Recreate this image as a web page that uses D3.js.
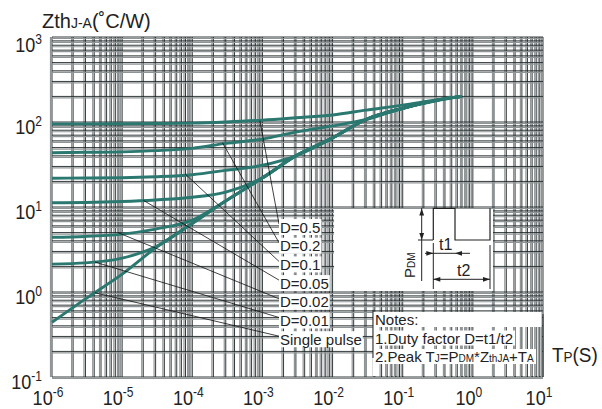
<!DOCTYPE html>
<html><head><meta charset="utf-8">
<script src="https://cdn.jsdelivr.net/npm/d3@7/dist/d3.min.js"></script>
<style>
body{margin:0;background:#fff;}
svg{display:block;font-family:Arial,"Liberation Sans",Helvetica,sans-serif;}
</style></head>
<body><svg id="c" width="602" height="409"></svg>
<script>
// ---- data ----
const tp = [1e-6, 3e-6, 1e-5, 3e-5, 1e-4, 3e-4, 1e-3, 3e-3, 1e-2, 3e-2, 1e-1, 3e-1, 0.7];
const seriesNames = ["D=0.5","D=0.2","D=0.1","D=0.05","D=0.02","D=0.01","Single pulse"];
const zD05   = [95, 95, 95.5, 96, 97, 100, 105, 112, 121, 138, 158, 182, 200];
const zD02   = [43.5, 44, 44.5, 46, 49, 56, 63, 76, 90, 107, 145, 178, 200];
const zD01   = [21.8, 21.9, 22.1, 22.7, 24, 27, 31, 40, 65, 107, 145, 180, 200];
const zD005  = [11.2, 11.3, 11.6, 12.1, 13, 15, 22, 40, 65, 107, 145, 180, 200];
const zD002  = [4.4, 4.5, 4.8, 5.5, 7, 11.8, 22, 40, 65, 107, 145, 180, 200];
const zD001  = [2.13, 2.2, 2.5, 3.4, 6.4, 11.8, 22, 40, 65, 107, 145, 180, 200];
const zSingle= [0.44, 0.83, 1.62, 3.3, 6.4, 11.8, 22, 40, 65, 107, 145, 180, 200];
// leader start points on the curves [t, Z]
const leaderStart = [[9.2e-4, 104],[2.7e-4, 57],[7.9e-5, 24.5],[2e-5, 12],[8.7e-6, 5],[4.1e-6, 2.25],[4.1e-6, 0.98]];
const xTickExp = [-6,-5,-4,-3,-2,-1,0,1];
const yTickExp = [-1,0,1,2,3];

const svg = d3.select("#c");
const M = {l:52, r:59, t:37, b:32};
const W = 602, H = 409;
const x = d3.scaleLog().domain([1e-6, 10]).range([M.l, W - M.r]);
const y = d3.scaleLog().domain([0.1, 1000]).range([H - M.b, M.t]);

// grid values
const minorX = [], minorY = [];
for (let e = -6; e < 1; e++) for (let k = 1; k < 10; k++) minorX.push(k * Math.pow(10, e));
minorX.push(10);
for (let e = -1; e < 3; e++) for (let k = 1; k < 10; k++) minorY.push(k * Math.pow(10, e));
minorY.push(1000);

function vGrid(sel, y1, y2) {
  sel.selectAll(null).data(minorX).join("line").attr("x1", d => x(d) - 1.5).attr("x2", d => x(d) - 1.5)
    .attr("y1", y1).attr("y2", y2).attr("stroke", "#8f9496").attr("stroke-width", 1.2);
  sel.selectAll(null).data(minorX).join("line").attr("x1", d => x(d)).attr("x2", d => x(d))
    .attr("y1", y1).attr("y2", y2).attr("stroke", "#1e2526").attr("stroke-width", 0.9);
}
const g = svg.append("g");
vGrid(g, y(1000), y(0.1));
g.selectAll(null).data(minorY).join("line").attr("y1", d => y(d) + 1.5).attr("y2", d => y(d) + 1.5)
  .attr("x1", x(1e-6)).attr("x2", x(10)).attr("stroke", "#8f9496").attr("stroke-width", 1.2);
g.selectAll(null).data(minorY).join("line").attr("y1", d => y(d)).attr("y2", d => y(d))
  .attr("x1", x(1e-6)).attr("x2", x(10)).attr("stroke", "#1e2526").attr("stroke-width", 0.9);

// curves
const all = [zD05, zD02, zD01, zD005, zD002, zD001, zSingle];
const line = d3.line().x(d => x(d[0])).y(d => y(d[1])).curve(d3.curveMonotoneX);
svg.append("g").selectAll("path").data(all).join("path")
  .attr("d", s => line(tp.map((t, i) => [t, s[i]])))
  .attr("fill", "none").attr("stroke", "#2b7870").attr("stroke-width", 2.9);

// white area behind pulse diagram
svg.append("rect").attr("x", x(1e-2) + 1.5).attr("y", y(10) + 2).attr("width", 493 - x(1e-2) - 1.5)
  .attr("height", y(1) - y(10) - 3).attr("fill", "#fff");

// labels with leaders
const labX = 280, labY0 = 227, labDy = 18.7;
const lab = svg.append("g");
seriesNames.forEach((n, i) => {
  const yy = labY0 + i * labDy;
  lab.append("line").attr("x1", x(leaderStart[i][0])).attr("y1", y(leaderStart[i][1]))
    .attr("x2", labX - 1).attr("y2", yy - 3).attr("stroke", "#111").attr("stroke-width", 0.8);
});
seriesNames.forEach((n, i) => {
  const yy = labY0 + i * labDy;
  const t = lab.append("text").attr("x", labX).attr("y", yy + 5.5).attr("font-size", 15).attr("fill", "#222").text(n);
  const bb = t.node().getBBox();
  lab.insert("rect", "text").attr("x", bb.x - 1).attr("y", bb.y + 0.5).attr("width", bb.width + 2).attr("height", bb.height - 1).attr("fill", "#fff");
});

// pulse diagram
const pd = svg.append("g");
const blk = "#222";
pd.append("path").attr("d", "M433.3,240 V208.3 H455 V240 H490 V208.3").attr("fill", "none").attr("stroke", blk).attr("stroke-width", 1.2);
pd.append("path").attr("d", "M418,240 H433 M421.7,208 V281 M433.3,243 V289 M490,245 V289 M425,253.3 H470 M433.3,279.3 H490").attr("fill", "none").attr("stroke", blk).attr("stroke-width", 1);
const arrow = (x0, y0, dx, dy) => {
  const L = 7, w = 2.4;
  const nx = -dy, ny = dx;
  pd.append("path").attr("d", `M${x0},${y0} L${x0 - dx*L + nx*w},${y0 - dy*L + ny*w} L${x0 - dx*L - nx*w},${y0 - dy*L - ny*w} Z`).attr("fill", blk);
};
arrow(421.7, 208.5, 0, -1); arrow(421.7, 240, 0, 1);
arrow(433.3, 253.3, 1, 0); arrow(455, 253.3, -1, 0);
arrow(433.3, 279.3, -1, 0); arrow(490, 279.3, 1, 0);
pd.append("text").attr("x", 439).attr("y", 250).attr("font-size", 16).attr("fill", "#222").text("t1");
pd.append("text").attr("x", 457).attr("y", 276).attr("font-size", 16).attr("fill", "#222").text("t2");
const pdm = pd.append("text").attr("transform", "translate(415,278) rotate(-90)").attr("font-size", 15).attr("fill", "#222");
pdm.append("tspan").text("P");
pdm.append("tspan").attr("font-size", 10).text("DM");

// notes
const notes = svg.append("g");
const nx0 = 373;
notes.append("rect").attr("x", nx0).attr("y", y(0.55)).attr("width", x(10) - nx0 - 1).attr("height", y(0.1) - y(0.55) - 1).attr("fill", "#fff");
const ng = notes.append("g");
vGrid(ng, y(0.55), y(0.1));
ng.selectAll("line").filter(function(d){ return x(d) < nx0 + 2; }).remove();
const noteLines = [
  [["Notes:", 15]],
  [["1.Duty factor D=t1/t2", 15]],
  [["2.Peak T", 15], ["J", 10], ["=P", 15], ["DM", 10], ["*Z", 15], ["thJA", 10], ["+T", 15], ["A", 10]]
];
noteLines.forEach((parts, i) => {
  const t = notes.append("text").attr("x", 375).attr("y", 325 + i * 18.5).attr("fill", "#222");
  parts.forEach(p => t.append("tspan").attr("font-size", p[1]).text(p[0]));
  const bb = t.node().getBBox();
  const wdt = i === 0 ? x(10) - nx0 - 1.5 : bb.x + bb.width + 2 - nx0;
  notes.insert("rect", "text").attr("x", nx0).attr("y", bb.y + 1).attr("width", wdt).attr("height", bb.height - 2).attr("fill", "#fff");
});
notes.append("line").attr("x1", nx0).attr("x2", nx0).attr("y1", 310).attr("y2", 358).attr("stroke", "#222").attr("stroke-width", 1);

// axis tick labels (condensed look)
const xl = svg.append("g");
xTickExp.forEach(e => {
  const t = xl.append("text").attr("transform", `translate(${x(Math.pow(10, e)) - 4},405) scale(0.86,1)`)
    .attr("text-anchor", "middle").attr("fill", "#222");
  t.append("tspan").attr("font-size", 21).text("10");
  t.append("tspan").attr("font-size", 14).attr("dy", -8.5).text(e);
});
const yl = svg.append("g");
yTickExp.forEach(e => {
  const yy = y(Math.pow(10, e)) + (e === 3 ? 15 : 12);
  const t = yl.append("text").attr("transform", `translate(42,${yy}) scale(0.86,1)`)
    .attr("text-anchor", "end").attr("fill", "#222");
  t.append("tspan").attr("font-size", 21).text("10");
  t.append("tspan").attr("font-size", 14).attr("dy", -8.5).text(e);
});
// titles
const yt = svg.append("text").attr("x", 42).attr("y", 28).attr("fill", "#222");
yt.append("tspan").attr("font-size", 20).text("Zth");
yt.append("tspan").attr("font-size", 14).text("J-A");
yt.append("tspan").attr("font-size", 20).text("(˚C/W)");
const xt = svg.append("text").attr("transform", "translate(552,362) scale(0.9,1)").attr("fill", "#222");
xt.append("tspan").attr("font-size", 21).text("T");
xt.append("tspan").attr("font-size", 15).text("P");
xt.append("tspan").attr("font-size", 21).text("(S)");
</script></body></html>
